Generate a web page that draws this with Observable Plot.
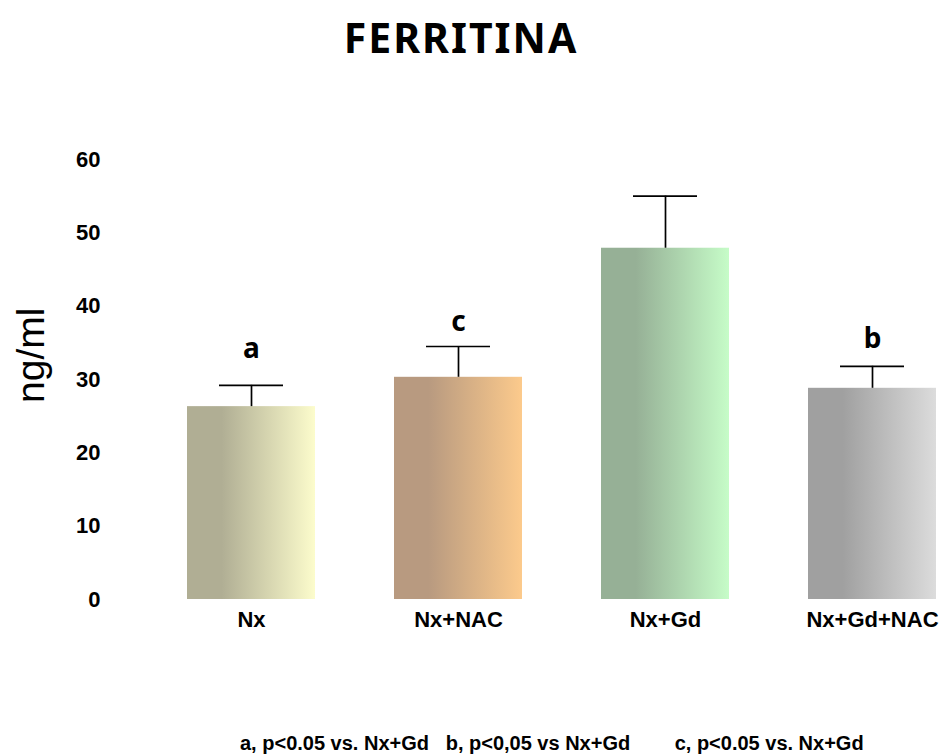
<!DOCTYPE html>
<html>
<head>
<meta charset="utf-8">
<script src="https://cdn.jsdelivr.net/npm/d3@7"></script>
<script src="https://cdn.jsdelivr.net/npm/@observablehq/plot@0.6"></script>
<style>
  body { margin: 0; background: #fff; width: 940px; }
  #title { height: 80px; box-sizing: border-box; padding-top: 9px; width: 922px; text-align: center;
    font-family: "Noto Sans", "DejaVu Sans", sans-serif; font-weight: 700; font-size: 41px; letter-spacing: 2px; color: #000; }
  #note { font-family: "Liberation Sans", Arial, sans-serif; font-weight: 700; font-size: 20px; color: #000;
    margin-top: 73px; padding-left: 240px; white-space: pre; }
</style>
</head>
<body>
<div id="title">FERRITINA</div>
<div id="chart"></div>
<div id="note"></div>
<script>
const groups = ["Nx", "Nx+NAC", "Nx+Gd", "Nx+Gd+NAC"];
const means = [26.3, 30.3, 47.9, 28.8];
const errors = [2.9, 4.2, 7.1, 3.0];
const letters = ["a", "c", "", "b"];
const letterY = [34.1, 37.9, null, 35.5];
const darkColors = ["#b0ae94", "#b89a80", "#96b096", "#a0a0a0"];
const lightColors = ["#fcfccc", "#fcca8c", "#c6fcc8", "#dcdcdc"];
const yTicks = [0, 10, 20, 30, 40, 50, 60];
const yLabel = "ng/ml";
const footnote = "a, p<0.05 vs. Nx+Gd   b, p<0,05 vs Nx+Gd        c, p<0.05 vs. Nx+Gd";

const data = groups.map((g, i) => ({group: g, mean: means[i], top: means[i] + errors[i], letter: letters[i], ly: letterY[i], idx: i}));

function defsMark() {
  const ns = "http://www.w3.org/2000/svg";
  const defs = document.createElementNS(ns, "defs");
  groups.forEach((g, i) => {
    const lg = document.createElementNS(ns, "linearGradient");
    lg.setAttribute("id", "grad" + i);
    lg.setAttribute("x1", "0"); lg.setAttribute("x2", "1");
    lg.setAttribute("y1", "0"); lg.setAttribute("y2", "0");
    [[0, darkColors[i]], [0.27, darkColors[i]], [1, lightColors[i]]].forEach(([o, c]) => {
      const s = document.createElementNS(ns, "stop");
      s.setAttribute("offset", o);
      s.setAttribute("stop-color", c);
      lg.appendChild(s);
    });
    defs.appendChild(lg);
  });
  return defs;
}

const chart = Plot.plot({
  width: 940,
  height: 579,
  marginTop: 79,
  marginBottom: 60,
  marginLeft: 0,
  marginRight: 0,
  style: {background: "#fff"},
  x: {domain: groups, range: [186, 936], paddingInner: 0.383, paddingOuter: 0, label: null},
  y: {domain: [0, 60], label: null, ticks: yTicks},
  marks: [
    defsMark,
    ...data.map(d => Plot.barY([d], {x: "group", y: "mean", fill: `url(#grad${d.idx})`})),
    Plot.ruleX(data, {x: "group", y1: "mean", y2: "top", stroke: "#000", strokeWidth: 1.7}),
    Plot.tickY(data, {x: "group", y: "top", stroke: "#000", strokeWidth: 1.7, insetLeft: 32, insetRight: 32}),
    Plot.text(data.filter(d => d.letter), {x: "group", y: "ly", text: "letter",
      fontFamily: "Noto Sans, DejaVu Sans, sans-serif", fontWeight: 700, fontSize: 28, fill: "#000"}),
    Plot.axisY({ticks: yTicks, tickSize: 0, tickPadding: 0, anchor: "left", dx: 100, textAnchor: "end",
      fontFamily: "Liberation Sans, Arial, sans-serif", fontWeight: 700, fontSize: 22, fill: "#000", label: null}),
    Plot.axisX({tickSize: 0, tickPadding: 12, fontFamily: "Liberation Sans, Arial, sans-serif", fontWeight: 700, fontSize: 22, fill: "#000", label: null}),
    Plot.text([yLabel], {frameAnchor: "left", dx: 31, y: 33.3, rotate: -90, text: d => d, textAnchor: "middle",
      fontFamily: "Liberation Sans, Arial, sans-serif", fontSize: 39, fill: "#000"})
  ]
});
document.getElementById("chart").appendChild(chart);
document.getElementById("note").textContent = footnote;
</script>
</body>
</html>
